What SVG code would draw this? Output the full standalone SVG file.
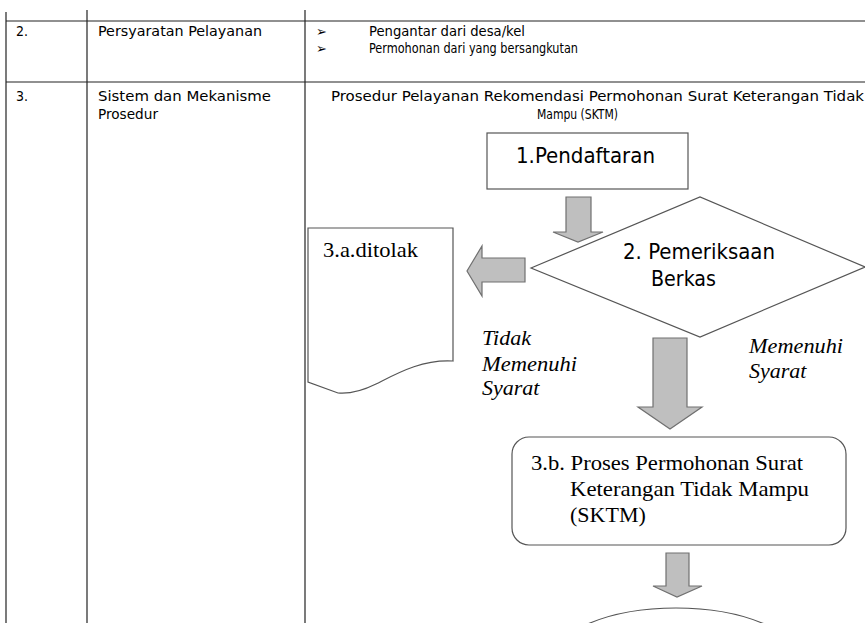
<svg xmlns="http://www.w3.org/2000/svg" width="865" height="623" viewBox="0 0 865 623">
<style>
.tbl{stroke:#222;stroke-width:1.2;fill:none}
.t{font-family:"DejaVu Sans Condensed","DejaVu Sans","Noto Sans",sans-serif;font-stretch:condensed;font-size:14px;fill:#000}
.b{font-family:"DejaVu Sans","Noto Sans",sans-serif;font-size:13px;fill:#000}
.node{fill:#fff;stroke:#555;stroke-width:1.2}
.arr{fill:#bfbfbf;stroke:#707070;stroke-width:1.2;stroke-linejoin:miter}
.sans{font-family:"DejaVu Sans Condensed","DejaVu Sans","Noto Sans",sans-serif;font-stretch:condensed;fill:#000;font-size:22px}
.serif{font-family:"Liberation Serif","Times New Roman",serif;fill:#000;font-size:22px}
.it{font-family:"Liberation Serif","Times New Roman",serif;font-style:italic;fill:#000;font-size:22px}
</style>
<rect width="865" height="623" fill="#fff"/>
<g id="table">
<line class="tbl" x1="6" y1="12" x2="6" y2="623"/>
<line class="tbl" x1="87" y1="10" x2="87" y2="623"/>
<line class="tbl" x1="305" y1="10" x2="305" y2="623"/>
<line class="tbl" x1="6" y1="21" x2="865" y2="21"/>
<line class="tbl" x1="6" y1="82" x2="865" y2="82"/>
<text class="t" x="16" y="36">2.</text>
<text class="t" x="98" y="36" textLength="164" lengthAdjust="spacingAndGlyphs">Persyaratan Pelayanan</text>
<text class="b" x="316" y="36">➢</text>
<text class="t" x="369" y="36" textLength="156" lengthAdjust="spacingAndGlyphs">Pengantar dari desa/kel</text>
<text class="b" x="316" y="53">➢</text>
<text class="t" x="369" y="53" textLength="209" lengthAdjust="spacingAndGlyphs">Permohonan dari yang bersangkutan</text>
<text class="t" x="16" y="101">3.</text>
<text class="t" x="98" y="101" textLength="173" lengthAdjust="spacingAndGlyphs">Sistem dan Mekanisme</text>
<text class="t" x="98" y="119" textLength="60" lengthAdjust="spacingAndGlyphs">Prosedur</text>
<text class="t" x="331" y="101" textLength="533" lengthAdjust="spacingAndGlyphs">Prosedur Pelayanan Rekomendasi Permohonan Surat Keterangan Tidak</text>
<text class="t" x="537" y="119" textLength="81" lengthAdjust="spacingAndGlyphs">Mampu (SKTM)</text>
</g>
<g id="connectors">
<polygon class="arr" points="566,197 591,197 591,232 603,232 578,242 553,232 566,232"/>
<polygon class="arr" points="525,258 482,258 482,246 467,271 482,296 482,282 525,282"/>
<polygon class="arr" points="653,338 687,338 687,407 702,407 670,429 638,407 653,407"/>
<polygon class="arr" points="666,553 689,553 689,586 702,586 677,597 653,586 666,586"/>
</g>
<g id="n1">
<rect class="node" x="487" y="133" width="201" height="56"/>
<text class="sans" x="516" y="163" textLength="139" lengthAdjust="spacingAndGlyphs">1.Pendaftaran</text>
</g>
<g id="n2">
<polygon class="node" points="531,268 700,197 865,267 700,337"/>
<text class="sans" x="623" y="259" textLength="152" lengthAdjust="spacingAndGlyphs">2. Pemeriksaan</text>
<text class="sans" x="651" y="286" textLength="65" lengthAdjust="spacingAndGlyphs">Berkas</text>
</g>
<g id="n3a">
<path class="node" d="M308,228 H453 V361 C422,359 396,374 376,384 C362,391 350,394 338,393 L308,382 Z"/>
<text class="serif" x="323" y="257" textLength="95" lengthAdjust="spacingAndGlyphs">3.a.ditolak</text>
</g>
<g id="labels">
<text class="it" x="482" y="345">Tidak</text>
<text class="it" x="482" y="371" textLength="95" lengthAdjust="spacingAndGlyphs">Memenuhi</text>
<text class="it" x="482" y="395">Syarat</text>
<text class="it" x="749" y="353" textLength="94" lengthAdjust="spacingAndGlyphs">Memenuhi</text>
<text class="it" x="749" y="378">Syarat</text>
</g>
<g id="n3b">
<rect class="node" x="512" y="437" width="334" height="108" rx="17"/>
<text class="serif" x="531" y="470" textLength="272" lengthAdjust="spacingAndGlyphs">3.b. Proses Permohonan Surat</text>
<text class="serif" x="570" y="496" textLength="239" lengthAdjust="spacingAndGlyphs">Keterangan Tidak Mampu</text>
<text class="serif" x="570" y="522">(SKTM)</text>
</g>
<g id="n4">
<ellipse class="node" cx="676" cy="668" rx="130" ry="60"/>
</g>
</svg>
